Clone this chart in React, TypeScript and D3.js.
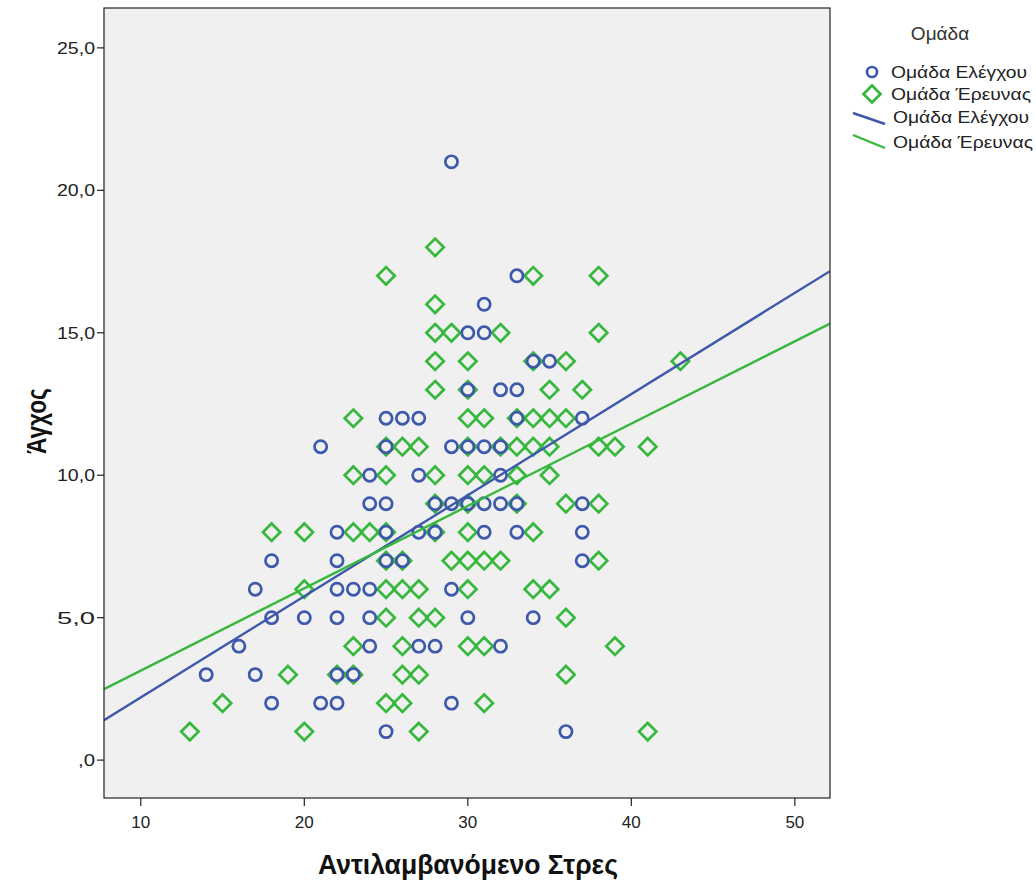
import React from 'react';
import * as d3 from 'd3';

// Ομάδα Ελέγχου (control group)
const controlX = [29, 33, 31, 30, 31, 30, 32, 33, 25, 26, 27, 33, 37, 21, 25, 29, 30, 31, 32, 24, 27, 32,
  24, 25, 28, 29, 30, 31, 32, 33, 37, 22, 25, 27, 28, 31, 33, 37, 18, 22, 25, 26, 37, 17, 22, 23, 24, 29,
  18, 20, 22, 24, 30, 34, 16, 24, 27, 28, 32, 14, 17, 22, 23, 18, 21, 22, 29, 25, 36, 34, 35];
const controlY = [21, 17, 16, 15, 15, 13, 13, 13, 12, 12, 12, 12, 12, 11, 11, 11, 11, 11, 11, 10, 10, 10,
  9, 9, 9, 9, 9, 9, 9, 9, 9, 8, 8, 8, 8, 8, 8, 8, 7, 7, 7, 7, 7, 6, 6, 6, 6, 6,
  5, 5, 5, 5, 5, 5, 4, 4, 4, 4, 4, 3, 3, 3, 3, 2, 2, 2, 2, 1, 1, 14, 14];

// Ομάδα Έρευνας (research group)
const researchX = [28, 25, 34, 38, 28, 28, 29, 32, 38, 28, 30, 34, 36, 43, 28, 30, 35, 37,
  23, 30, 31, 33, 34, 35, 36, 25, 26, 27, 30, 32, 33, 34, 35, 38, 39, 41,
  23, 25, 28, 30, 31, 33, 35, 28, 30, 33, 36, 38, 18, 20, 23, 24, 25, 28, 30, 34,
  25, 26, 29, 30, 31, 32, 38, 20, 25, 26, 27, 30, 34, 35, 25, 27, 28, 36,
  23, 26, 30, 31, 39, 19, 22, 23, 26, 27, 36, 15, 25, 26, 31, 13, 20, 27, 41];
const researchY = [18, 17, 17, 17, 16, 15, 15, 15, 15, 14, 14, 14, 14, 14, 13, 13, 13, 13,
  12, 12, 12, 12, 12, 12, 12, 11, 11, 11, 11, 11, 11, 11, 11, 11, 11, 11,
  10, 10, 10, 10, 10, 10, 10, 9, 9, 9, 9, 9, 8, 8, 8, 8, 8, 8, 8, 8,
  7, 7, 7, 7, 7, 7, 7, 6, 6, 6, 6, 6, 6, 6, 5, 5, 5, 5,
  4, 4, 4, 4, 4, 3, 3, 3, 3, 3, 3, 2, 2, 2, 2, 1, 1, 1, 1];

// fit lines: [intercept, slope]
const controlFit = [-1.35, 0.355];
const researchFit = [0.25, 0.289];

const xTicks = [10, 20, 30, 40, 50];
const yTicks = [0, 5, 10, 15, 20, 25];
const groupNames = ['Ομάδα Ελέγχου', 'Ομάδα Έρευνας'];

const BLUE = '#3E58AC';
const GREEN = '#36B83D';
const FONT = '"Liberation Sans", Arial, sans-serif';
const NARROW = '"Liberation Sans Narrow", "Arial Narrow", "Liberation Sans", sans-serif';

const left = 104, right = 830, top = 8, bottom = 798;

const x = d3.scaleLinear().domain([7.75, 52.15]).range([left, right]);
const y = d3.scaleLinear().domain([-1.33, 26.4]).range([bottom, top]);

const fmtY = (v: number) => (v === 0 ? ',0' : v.toFixed(1).replace('.', ','));

const diamond = (cx: number, cy: number, s: number) =>
  `M${cx},${cy - s}L${cx + s},${cy}L${cx},${cy + s}L${cx - s},${cy}Z`;

export default function App() {
  const [x0, x1] = x.domain();
  const fitLine = (f: number[]) =>
    d3.line<number>().x((v) => x(v)).y((v) => y(f[0] + f[1] * v))([x0, x1]) || '';

  return (
    <svg width={1036} height={883} style={{ position: 'absolute', left: 0, top: 0, background: '#fff' }}>
      <defs>
        <clipPath id="plot">
          <rect x={left} y={top} width={right - left} height={bottom - top} />
        </clipPath>
      </defs>
      <rect x={left} y={top} width={right - left} height={bottom - top} fill="#F0F0F0" />

      <g clipPath="url(#plot)">
        {researchX.map((v, i) => (
          <path key={'r' + i} d={diamond(x(v), y(researchY[i]), 8.7)} fill="none" stroke={GREEN} strokeWidth={2.7} />
        ))}
        {controlX.map((v, i) => (
          <circle key={'c' + i} cx={x(v)} cy={y(controlY[i])} r={6.1} fill="none" stroke={BLUE} strokeWidth={2.7} />
        ))}
        <path d={fitLine(controlFit)} stroke={BLUE} strokeWidth={2.4} fill="none" />
        <path d={fitLine(researchFit)} stroke={GREEN} strokeWidth={2.4} fill="none" />
      </g>

      <rect x={left} y={top} width={right - left} height={bottom - top} fill="none" stroke="#222" strokeWidth={1.2} />

      {yTicks.map((t) => (
        <g key={'y' + t}>
          <line x1={left - 7} x2={left} y1={y(t)} y2={y(t)} stroke="#222" strokeWidth={1.2} />
          <text x={left - 9} y={y(t) + 6} textAnchor="end" fontFamily={FONT} fontSize={17} fill="#222"
            textLength={t === 0 ? 17 : 38} lengthAdjust="spacingAndGlyphs">
            {fmtY(t)}
          </text>
        </g>
      ))}
      {xTicks.map((t) => (
        <g key={'x' + t}>
          <line x1={x(t)} x2={x(t)} y1={bottom} y2={bottom + 8} stroke="#222" strokeWidth={1.2} />
          <text x={x(t)} y={bottom + 30} textAnchor="middle" fontFamily={FONT} fontSize={17} fill="#222">
            {t}
          </text>
        </g>
      ))}

      <text x={468} y={874} textAnchor="middle" fontFamily={NARROW} fontWeight="bold"
        fontSize={27} fill="#111" textLength={300} lengthAdjust="spacingAndGlyphs">
        Αντιλαμβανόμενο Στρες
      </text>
      <text transform={`translate(46, ${y(11.9)}) rotate(-90)`} textAnchor="middle" fontFamily={NARROW}
        fontWeight="bold" fontSize={27} fill="#111" textLength={66} lengthAdjust="spacingAndGlyphs">
        Άγχος
      </text>

      <text x={940} y={40} textAnchor="middle" fontFamily={FONT} fontSize={19} fill="#333">Ομάδα</text>
      <circle cx={872} cy={72} r={5} fill="none" stroke={BLUE} strokeWidth={2.7} />
      <path d={diamond(872, 94, 8.5)} fill="none" stroke={GREEN} strokeWidth={2.7} />
      <line x1={853} y1={113} x2={885} y2={124} stroke={BLUE} strokeWidth={2.4} />
      <line x1={853} y1={135} x2={885} y2={148} stroke={GREEN} strokeWidth={2.4} />
      {[groupNames[0], groupNames[1], groupNames[0], groupNames[1]].map((n, i) => (
        <text key={'l' + i} x={891 + (i > 1 ? 2 : 0)} y={[78, 100, 123, 148][i]} fontFamily={FONT} fontSize={17}
          fill="#222" textLength={i % 2 === 0 ? 136 : 140} lengthAdjust="spacingAndGlyphs">
          {n}
        </text>
      ))}
    </svg>
  );
}
